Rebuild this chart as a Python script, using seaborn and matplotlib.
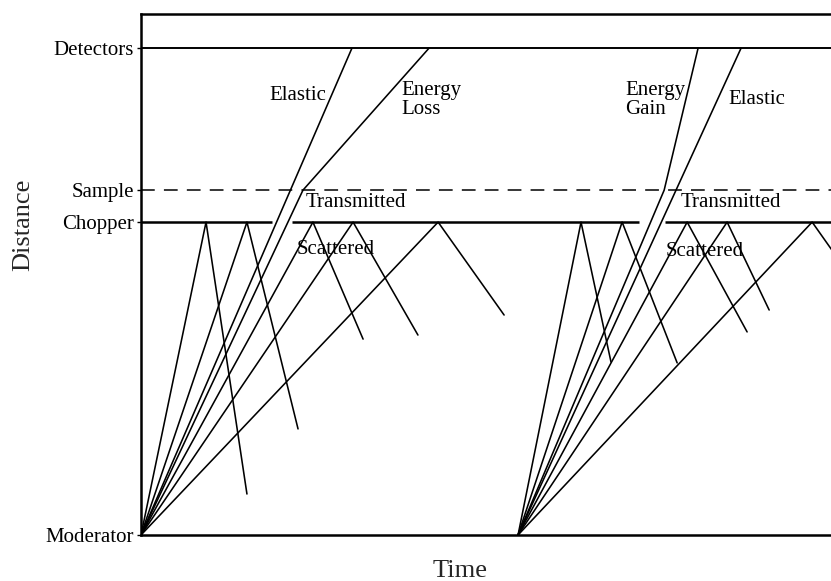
import numpy as np
import pandas as pd
import matplotlib
matplotlib.use("Agg")
import matplotlib.pyplot as plt
import seaborn as sns

# Flight-path positions (m from moderator)
MODERATOR = 0.0
CHOPPER = 10.0
SAMPLE = 11.02
DETECTORS = 15.56
position_names = ["Moderator", "Chopper", "Sample", "Detectors"]
position_values = [MODERATOR, CHOPPER, SAMPLE, DETECTORS]

# Source pulses (ms)
pulse_times = [0.0, 20.0]

# Neutrons reflected by the closed chopper: hit time at chopper, end of reflected track
reflect_hit_p1 = [3.45, 5.62, 9.12, 11.25, 15.76]
reflect_end_t_p1 = [5.62, 8.33, 11.78, 14.69, 19.26]
reflect_end_d_p1 = [1.31, 3.39, 6.26, 6.39, 7.03]

reflect_hit_p2 = [23.34, 25.52, 28.97, 31.09, 35.60]
reflect_end_t_p2 = [24.93, 28.44, 32.15, 33.32, 39.20]
reflect_end_d_p2 = [5.53, 5.50, 6.49, 7.19, 6.93]

# Transmitted neutrons: elastic arrival at detectors; inelastic branch (sample time, detector time)
elastic_det_t = [11.19, 31.83]
inelastic_sample_t = [8.59, 27.75]
inelastic_det_t = [15.28, 29.55]

# Chopper opening windows (ms)
chopper_open = [(6.95, 8.01), (26.42, 27.80)]

T_MAX = 36.6
D_MAX = 16.65

# Build one long table of track segments
rows = []
seg = 0
def add_track(points):
    global seg
    for t, d in points:
        rows.append({"time": t, "distance": d, "track": seg})
    seg += 1

for t0, hits, ends_t, ends_d in [
    (pulse_times[0], reflect_hit_p1, reflect_end_t_p1, reflect_end_d_p1),
    (pulse_times[1], reflect_hit_p2, reflect_end_t_p2, reflect_end_d_p2),
]:
    for th, te, de in zip(hits, ends_t, ends_d):
        add_track([(t0, MODERATOR), (th, CHOPPER), (te, de)])

for t0, te, ts, ti in zip(pulse_times, elastic_det_t, inelastic_sample_t, inelastic_det_t):
    add_track([(t0, MODERATOR), (te, DETECTORS)])
    add_track([(t0, MODERATOR), (ts, SAMPLE), (ti, DETECTORS)])

tracks = pd.DataFrame(rows)

sns.set_theme(style="white")
plt.rcParams["font.family"] = ["Liberation Serif", "DejaVu Serif"]

fig = plt.figure(figsize=(8.31, 5.81), dpi=100)
ax = fig.add_axes([141 / 831, 46 / 581, 690 / 831, 521 / 581])

sns.lineplot(data=tracks, x="time", y="distance", units="track", estimator=None,
             sort=False, color="black", linewidth=1.15, ax=ax, legend=False)

# Detector bank and sample plane
ax.axhline(DETECTORS, color="black", linewidth=1.4)
ax.axhline(SAMPLE, color="black", linewidth=1.1, dashes=(9, 6))

# Chopper disc, closed except during the opening windows
closed_from = [0.0] + [w[1] for w in chopper_open]
closed_to = [w[0] for w in chopper_open] + [T_MAX + 1]
ax.hlines([CHOPPER] * len(closed_from), closed_from, closed_to,
          color="black", linewidth=1.8)

ax.set_xlim(0, T_MAX)
ax.set_ylim(0, D_MAX)

for side in ["left", "top", "bottom"]:
    ax.spines[side].set_color("black")
    ax.spines[side].set_linewidth(1.8)
ax.spines["right"].set_visible(False)

ax.set_xticks([])
ax.set_yticks(position_values)
ax.set_yticklabels(position_names, fontsize=15)
ax.tick_params(axis="y", direction="out", length=3, width=1, pad=2, colors="black", left=True)
ax.set_xlabel("")
ax.set_ylabel("")

txt = dict(fontsize=15, color="black")
ax.text(8.33, 14.06, "Elastic", ha="center", va="center", **txt)
ax.text(13.79, 13.9, "Energy\nLoss", ha="left", va="center", linespacing=0.95, **txt)
ax.text(8.75, 10.61, "Transmitted", ha="left", va="center", **txt)
ax.text(8.28, 9.11, "Scattered", ha="left", va="center", **txt)
ax.text(25.68, 13.9, "Energy\nGain", ha="left", va="center", linespacing=0.95, **txt)
ax.text(31.14, 13.93, "Elastic", ha="left", va="center", **txt)
ax.text(28.65, 10.61, "Transmitted", ha="left", va="center", **txt)
ax.text(27.85, 9.07, "Scattered", ha="left", va="center", **txt)

fig.text(23 / 831, 1 - 225 / 581, "Distance", rotation=90, ha="center", va="center", fontsize=19)
fig.text(460 / 831, 4 / 581, "Time", ha="center", va="baseline", fontsize=19)

fig.savefig("out.png", dpi=100, facecolor="white")
